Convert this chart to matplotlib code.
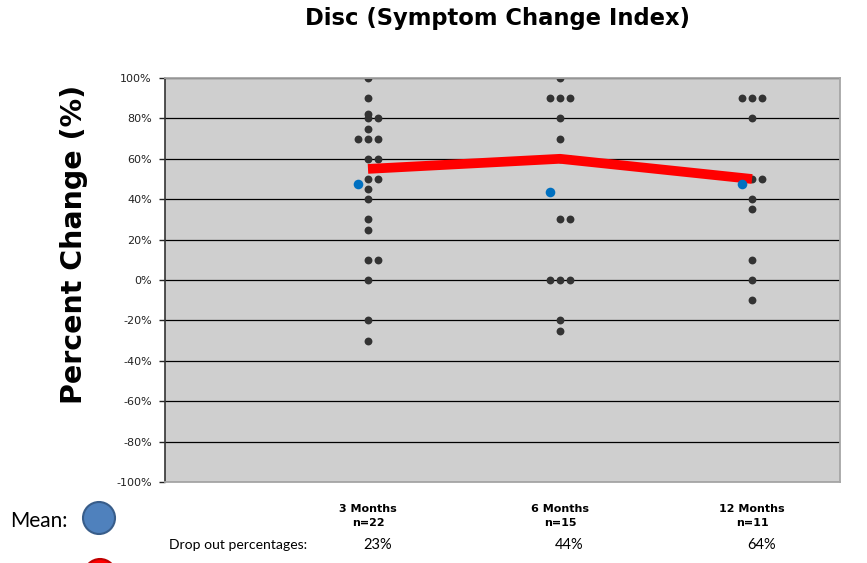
import matplotlib
matplotlib.use("Agg")
import matplotlib.pyplot as plt
from matplotlib.patches import Ellipse
from matplotlib.ticker import FuncFormatter
import numpy as np

# data
months = ["3 Months", "6 Months", "12 Months"]
n_labels = ["n=22", "n=15", "n=11"]
dropout = ["23%", "44%", "64%"]
scores_3m = [100, 90, 82, 80, 80, 75, 70, 70, 70, 60, 60, 50, 50, 45, 40,
             30, 25, 10, 10, 0, -20, -30]
scores_6m = [100, 90, 90, 90, 80, 70, 60, 60, 30, 30, 0, 0, 0, -20, -25]
scores_12m = [90, 90, 90, 80, 50, 50, 40, 35, 10, 0, -10]
means = [47.6, 43.7, 47.7]
medians = [55, 60, 50]

groups = [scores_3m, scores_6m, scores_12m]
xpos = np.arange(1, len(months) + 1)
step = 0.052  # horizontal spread of equal values

fig = plt.figure(figsize=(8.67, 5.63), dpi=100)
ax = fig.add_axes([165 / 867, 1 - 482 / 563, 675 / 867, 404 / 563])
ax.set_facecolor("#cfcfcf")

# individual scores, equal values spread sideways (0, +1, -1 ...)
order = [0, 1, -1, 2, -2]
for x, vals in zip(xpos, groups):
    seen = {}
    xs = []
    for v in vals:
        k = seen.get(v, 0)
        xs.append(x + order[k] * step)
        seen[v] = k + 1
    ax.scatter(xs, vals, s=32, color="#333333", zorder=3, linewidths=0)

# median line and means
ax.plot(xpos, medians, color="#ff0000", lw=7, zorder=4, solid_capstyle="butt")
ax.scatter(xpos - step, means, s=48, color="#0070c0", zorder=5, linewidths=0)

ax.set_xlim(-0.057, 3.458)
ax.set_ylim(-100, 100)
ax.set_yticks(np.arange(-100, 101, 20))
ax.yaxis.set_major_formatter(FuncFormatter(lambda v, p: f"{v:.0f}%"))
ax.tick_params(axis="y", direction="out", length=4, width=1, pad=5.5,
               labelsize=8, labelcolor="#222222", color="#222222")
ax.yaxis.grid(True, color="black", lw=0.9)
ax.set_axisbelow(True)

ax.set_xticks(xpos)
ax.set_xticklabels([m + "\n" + n for m, n in zip(months, n_labels)],
                   fontsize=8, fontweight="bold", linespacing=1.5)
ax.tick_params(axis="x", length=0, pad=16)

for side in ["top", "right", "bottom"]:
    ax.spines[side].set_color("#a6a6a6")
    ax.spines[side].set_linewidth(1.3)
    ax.spines[side].set_zorder(3)
ax.spines["left"].set_color("#333333")
ax.spines["left"].set_linewidth(1.2)

ax.set_ylabel("Percent Change (%)", fontsize=20.5, fontweight="bold")
ax.yaxis.set_label_coords(-0.114, 0.587)
fig.suptitle("Disc (Symptom Change Index)", x=0.574, y=0.988,
             fontsize=16.3, fontweight="bold")

# drop out row
fig.text(169 / 867, 1 - 545 / 563, "Drop out percentages:", family="Lato",
         fontsize=10.1, va="center", ha="left")
for x, d in zip(xpos, dropout):
    ax.text(x + 0.05, -0.155, d, transform=ax.get_xaxis_transform(),
            family="Lato", fontsize=10.5, ha="center", va="center")

# legend shapes
fig.text(10 / 867, 1 - 521 / 563, "Mean:", family="Lato", fontsize=15,
         va="center", ha="left")
fig.add_artist(Ellipse((99 / 867, 1 - 518 / 563), 32 / 867, 32 / 563,
                       transform=fig.transFigure, facecolor="#4f81bd",
                       edgecolor="#385d8a", lw=1.5))
fig.add_artist(Ellipse((100 / 867, 1 - 575 / 563), 32 / 867, 32 / 563,
                       transform=fig.transFigure, facecolor="#ff0000",
                       edgecolor="#c00000", lw=1.5))

fig.savefig("out.png", dpi=100)
